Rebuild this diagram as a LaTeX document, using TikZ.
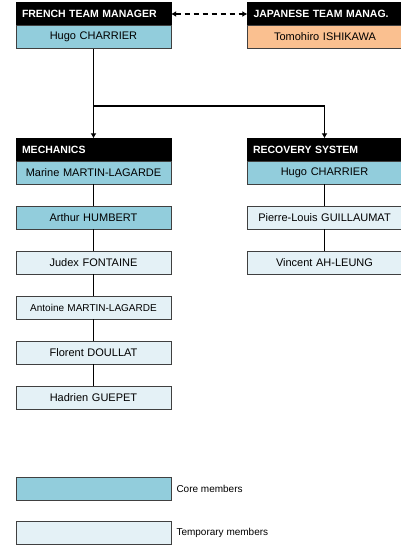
\documentclass[tikz,border=0pt]{standalone}
\usepackage{fontspec}
\setmainfont{Liberation Sans}
\usetikzlibrary{positioning,arrows.meta}
\definecolor{corecol}{HTML}{92CDDC}
\definecolor{tempcol}{HTML}{E4F1F6}
\definecolor{jpcol}{HTML}{FAC090}
\tikzset{
    x=1pt,
    y=-1pt,
    head/.style = {
        draw=black,
        fill=black,
        text=white,
        shape=rectangle,
        font=\fontsize{10.5}{12}\selectfont\bfseries,
        minimum height=23pt,
        text width=143pt,
        inner xsep=6pt,
        inner ysep=0pt,
        align=left
    },
    member/.style = {
        draw=black!75,
        shape=rectangle,
        font=\fontsize{11}{13}\selectfont,
        minimum height=23pt,
        text width=145pt,
        inner xsep=5pt,
        inner ysep=0pt,
        line width=0.6pt,
        align=center
    },
    core/.style = {member, fill=corecol},
    temp/.style = {member, fill=tempcol},
    japan/.style = {member, fill=jpcol},
    link/.style = {line width=1.9pt},
    >={Latex[length=5pt,width=6pt]},
}

\begin{document}
\begin{tikzpicture}
            \useasboundingbox (0,0) rectangle (401,546);

            % managers
            \node[head] (frhead) at (93.5,14) {\mbox{FRENCH TEAM MANAGER}};
            \node[core] (frname) at (93.5,37) {Hugo CHARRIER};
            \node[head] (jphead) at (325,14) {\mbox{JAPANESE TEAM MANAG.}};
            \node[japan] (jpname) at (325,37) {Tomohiro ISHIKAWA};

            % mechanics
            \node[head] (mechhead) at (93.5,150) {MECHANICS};
            \node[core] (marine) at (93.5,172.5) {Marine MARTIN-LAGARDE};
            \node[core] (arthur) at (93.5,217.5) {Arthur HUMBERT};
            \node[temp] (judex) at (93.5,262.5) {Judex FONTAINE};
            \node[temp, font=\fontsize{10}{12}\selectfont] (antoine) at (93.5,307.5) {Antoine MARTIN-LAGARDE};
            \node[temp] (florent) at (93.5,352.5) {Florent DOULLAT};
            \node[temp] (hadrien) at (93.5,397.5) {Hadrien GUEPET};

            % recovery system
            \node[head] (rechead) at (324.5,150) {RECOVERY SYSTEM};
            \node[core] (hugo) at (324.5,172.5) {Hugo CHARRIER};
            \node[temp] (pierre) at (324.5,217.5) {Pierre-Louis GUILLAUMAT};
            \node[temp] (vincent) at (324.5,262.5) {Vincent AH-LEUNG};

            % legend
            \node[core] (corekey) at (93.5,488.5) {};
            \node[temp] (tempkey) at (93.5,532.5) {};
            \node[anchor=west, font=\fontsize{10}{12}\selectfont, inner sep=0pt, right=5pt of corekey] (corelbl) {Core members};
            \node[anchor=west, font=\fontsize{10}{12}\selectfont, inner sep=0pt, right=5pt of tempkey] (templbl) {Temporary members};

            \coordinate (split) at (93.5,106);

            \path[draw, line width=1.6pt, dash pattern=on 5pt off 4pt, <->] (frhead) -- (jphead);
            \path[draw, link] (frname) -- (split);
            \path[draw, link, ->] (split) -- (mechhead);
            \path[draw, link, ->] (split) -| (rechead);

            \path[draw, link] (marine) -- (arthur);
            \path[draw, link] (arthur) -- (judex);
            \path[draw, link] (judex) -- (antoine);
            \path[draw, link] (antoine) -- (florent);
            \path[draw, link] (florent) -- (hadrien);

            \path[draw, link] (hugo) -- (pierre);
            \path[draw, link] (pierre) -- (vincent);
        \end{tikzpicture}
\end{document}
